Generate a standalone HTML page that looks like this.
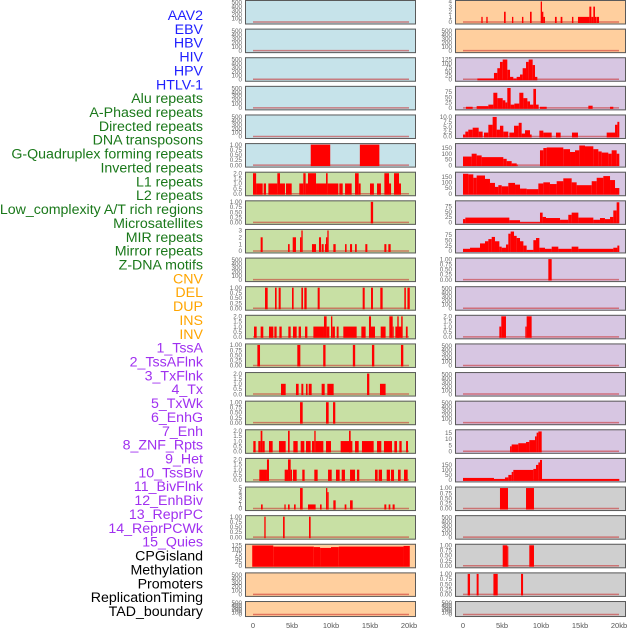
<!DOCTYPE html>
<html><head><meta charset="utf-8">
<style>
html,body{margin:0;padding:0;background:#fff;}
svg{display:block;font-family:"Liberation Sans",sans-serif;}
</style></head>
<body>
<svg id="chart" width="630" height="630" viewBox="0 0 630 630" xmlns="http://www.w3.org/2000/svg"></svg>
<script>
const trackLabels = ["AAV2","EBV","HBV","HIV","HPV","HTLV-1","Alu repeats","A-Phased repeats","Directed repeats","DNA transposons","G-Quadruplex forming repeats","Inverted repeats","L1 repeats","L2 repeats","Low_complexity A/T rich regions","Microsatellites","MIR repeats","Mirror repeats","Z-DNA motifs","CNV","DEL","DUP","INS","INV","1_TssA","2_TssAFlnk","3_TxFlnk","4_Tx","5_TxWk","6_EnhG","7_Enh","8_ZNF_Rpts","9_Het","10_TssBiv","11_BivFlnk","12_EnhBiv","13_ReprPC","14_ReprPCWk","15_Quies","CPGisland","Methylation","Promoters","ReplicationTiming","TAD_boundary"];
const labelGroups = [6,13,5,15,5];
const groupColors = ["#1f1fff","#1a781a","#ffa500","#a030f0","#000000"];

const xTicks = [0,5,10,15,20];
const xTickLabels = ["0","5kb","10kb","15kb","20kb"];

const T1 = ["0.00","0.25","0.50","0.75","1.00"], T1v=[0,0.25,0.5,0.75,1];
const T2 = ["0.0","0.5","1.0","1.5","2.0"], T2v=[0,0.5,1,1.5,2];
const TE = ["0","100","200","300","400","500"], TEv=[0,100,200,300,400,500];

const leftBg = ["#c6e3ea","#c6e3ea","#c6e3ea","#c6e3ea","#c6e3ea","#c6e3ea","#c8e0a4","#c8e0a4","#c8e0a4","#c8e0a4","#c8e0a4","#c8e0a4","#c8e0a4","#c8e0a4","#c8e0a4","#c8e0a4","#c8e0a4","#c8e0a4","#c8e0a4","#ffcf9e","#ffcf9e","#ffcf9e"];
const leftMax = [520,520,520,520,520,1,2,1,3,520,1,2,1,2,1,2,2,5,1,125,520,520];
const leftTickVals = [TEv,TEv,TEv,TEv,TEv,T1v,T2v,T1v,[0,1,2,3],TEv,T1v,T2v,T1v,T2v,T1v,T2v,T2v,[0,1,2,3,4,5],T1v,[0,25,50,75,100,125],TEv,TEv];
const leftTickText = [TE,TE,TE,TE,TE,T1,T2,T1,["0","1","2","3"],TE,T1,T2,T1,T2,T1,T2,T2,["0","1","2","3","4","5"],T1,["0","25","50","75","100","125"],TE,TE];
const leftSegs = [
 [],[],[],[],[],
 [[7.4,9.9,1],[13.7,16.2,1]],
 [[0,0.4,2],[0.4,1.24,1],[1.37,1.67,1],[1.97,3.12,1],[3.12,3.46,2],[3.46,4.1,1],[4.23,4.96,1],[5.94,6.45,1],[6.45,6.75,2],[6.75,7.05,1],[7.05,8.08,2],[8.08,9.36,1],[9.36,9.57,2],[9.57,10.94,1],[11.07,11.5,1],[11.8,12.65,1],[13.08,13.55,2],[13.55,13.8,1],[15,15.5,1],[15.9,16.4,1],[16.84,17.44,2],[17.44,17.7,1],[18.08,18.72,2],[18.72,18.97,1]],
 [[15.1,15.4,1]],
 [[0.98,1.24,2],[4.49,4.7,1],[5.09,5.51,2],[6.03,6.2,2],[6.2,6.37,3],[7.56,8.08,1],[8.46,8.72,2],[8.8,9.06,1],[9.23,9.53,1],[9.36,9.53,2],[9.53,9.7,3],[10.3,10.6,1],[11.8,12.0,1],[12.44,12.7,1],[13.08,13.3,1],[14.4,14.66,1],[16.84,17.1,1],[17.35,17.65,1]],
 [],
 [[1.54,1.88,1],[2.82,3.03,1],[3.29,3.55,1],[5.0,5.21,1],[6.2,6.41,1],[6.58,6.88,1],[8.29,8.55,1],[14.06,14.32,1],[15.13,15.38,1],[16.32,16.62,1],[19.4,19.6,1],[19.8,20.1,1]],
 [[0.13,0.47,1],[0.98,1.32,1],[2.05,2.61,1],[2.74,3.03,1],[3.38,3.68,1],[4.53,4.83,1],[5.13,5.6,1],[5.85,6.15,1],[6.67,6.97,1],[7.74,9.1,1],[9.1,9.44,2],[9.44,9.79,1],[10.0,10.17,2],[10.17,10.5,1],[10.73,10.98,1],[11.58,13.29,1],[13.89,14.44,1],[14.87,15.13,2],[15.13,15.64,1],[16.37,17.0,1],[17.48,17.91,2],[17.91,18.03,1],[18.25,19.06,1],[18.5,18.68,2],[19.0,19.19,2],[19.6,19.83,1]],
 [[0.56,0.9,1],[5.68,6.07,1],[9.0,9.3,1],[12.8,13.1,1],[15.25,15.55,1],[18.97,19.27,1]],
 [[3.59,4.19,1],[5.51,5.85,1],[6.2,6.45,1],[6.79,7.0,1],[7.14,7.52,1],[8.8,9.19,1],[9.53,10.34,1],[14.62,14.91,2],[16.28,17.0,1]],
 [[6.03,6.37,1],[9.36,9.7,1],[10.26,10.55,1]],
 [[0.04,0.34,1],[0.68,0.98,1],[0.98,1.2,2],[1.2,1.5,1],[2.05,2.52,1],[3.33,4.19,1],[4.49,4.7,2],[5.17,5.73,1],[6.11,6.58,1],[6.79,7.39,1],[7.56,7.86,1],[7.86,8.03,2],[8.03,9.02,1],[9.36,10.0,1],[11.24,12.74,1],[12.31,12.52,2],[13.08,13.55,1],[13.97,15.47,1],[15.9,16.45,1],[16.79,17.82,1],[18.12,18.46,1],[18.76,19.06,1],[19.62,19.87,1]],
 [[0.81,1.79,1],[1.79,2.05,2],[4.06,4.49,1],[4.49,4.83,2],[4.83,5.0,1],[5.13,5.6,1],[6.32,6.62,1],[7.86,8.29,1],[9.62,10.09,1],[10.64,11.11,1],[11.37,11.79,1],[12.44,13.08,1],[13.33,13.63,1],[15.64,15.98,1],[16.11,16.54,1],[17.14,17.56,1],[17.69,18.08,1],[18.59,18.93,1],[19.36,19.83,1]],
 [[1.03,1.24,1],[4.02,4.19,1],[4.49,4.7,1],[5.26,5.47,1],[6.03,6.37,5],[7.05,8.03,1],[8.59,8.8,1],[9.36,9.53,5],[9.53,9.7,4],[10.3,10.6,2],[11.75,11.97,1],[12.44,12.78,2],[16.84,17.09,1],[17.39,17.61,1],[17.9,18.16,1]],
 [[1.45,1.62,1],[3.85,4.06,1],[7.18,7.39,1]],
 [[-0.1,2.6,124],[2.6,7.8,117],[7.8,8.6,114],[8.6,10.0,109],[10.0,11.0,114],[11.0,19.3,117],[19.3,20.1,121]],
 [],[]
];

const rightBg = ["#ffcf9e","#ffcf9e","#d7c6e2","#d7c6e2","#d7c6e2","#d7c6e2","#d7c6e2","#d7c6e2","#d7c6e2","#d7c6e2","#d7c6e2","#d7c6e2","#d7c6e2","#d7c6e2","#d7c6e2","#d7c6e2","#d7c6e2","#cfcfcf","#cfcfcf","#cfcfcf","#cfcfcf","#cfcfcf"];
const rightMax = [4,520,130,95,10.5,180,180,95,95,1,520,2,520,520,520,16.5,205,1,520,1,1,520];
const rightTickVals = [[0,1,2,3,4],TEv,[0,25,50,75,100,125],[0,25,50,75],[0,2.5,5,7.5,10],[0,50,100,150],[0,50,100,150],[0,25,50,75],[0,25,50,75],T1v,TEv,T2v,TEv,TEv,TEv,[0,5,10,15],[0,50,100,150],T1v,TEv,T1v,T1v,TEv];
const rightTickText = [["0","1","2","3","4"],TE,["0","25","50","75","100","125"],["0","25","50","75"],["0.0","2.5","5.0","7.5","10.0"],["0","50","100","150"],["0","50","100","150"],["0","25","50","75"],["0","25","50","75"],T1,TE,T2,TE,TE,TE,["0","5","10","15"],["0","50","100","150"],T1,TE,T1,T1,TE];
const rightSegs = [
 [[2.35,2.52,1],[2.99,3.16,1],[5.26,5.47,2],[6.28,6.45,1],[7.56,7.74,1],[8.59,8.8,2],[9.96,10.13,4],[10.13,10.3,2],[10.3,10.51,1],[11.79,12.01,1],[12.52,12.74,1],[13.97,14.15,1],[14.74,16.2,1],[16.2,16.45,3],[16.45,16.71,1],[16.71,16.92,3],[16.92,17.14,1],[17.18,17.44,1]],
 [],
 [[1.84,3.97,5],[3.97,4.4,40],[4.4,4.74,70],[4.74,5.09,110],[5.09,5.68,125],[5.68,6.03,60],[6.03,6.45,15],[6.45,6.88,5],[6.88,7.31,15],[7.31,7.65,30],[7.65,8.08,70],[8.08,8.42,110],[8.42,8.93,125],[8.93,9.23,90],[9.23,9.53,15]],
 [[0.38,1.24,5],[1.75,3.25,8],[3.25,3.89,15],[3.89,4.4,70],[4.4,5.09,45],[5.09,5.43,35],[5.43,5.68,25],[5.68,6.11,92],[6.11,6.58,15],[6.58,7.22,20],[7.22,7.74,70],[7.74,8.25,45],[8.25,8.59,30],[8.59,9.02,15],[9.02,9.36,88],[9.36,9.7,15],[9.87,10.73,5],[16.07,16.62,10],[18.85,19.27,5]],
 [[0,0.3,1],[0.3,0.68,2.5],[0.68,1.24,3.5],[1.24,2.01,4.5],[2.01,2.52,2.5],[2.69,3.25,2],[3.25,3.8,6],[3.8,4.32,10],[4.32,4.74,3.5],[4.74,5.17,5.5],[5.17,5.81,2.5],[5.94,6.54,2],[6.54,7.14,5.5],[7.14,7.52,7],[7.52,7.95,1.5],[7.95,8.59,3.2],[8.59,8.8,1],[9.79,10.3,3],[10.3,11.37,2],[11.92,12.52,2],[13.97,14.74,2],[18.42,19.49,2],[19.49,19.79,6],[19.79,20.04,7.5]],
 [[0,1.11,75],[1.11,1.75,100],[1.75,2.39,85],[2.39,5.17,70],[5.17,5.6,55],[5.6,6.24,35],[6.24,6.88,15],[6.88,6.97,5],[9.87,10.3,130],[10.3,10.73,150],[10.73,12.86,155],[12.86,13.72,140],[13.72,14.36,115],[14.36,14.91,130],[14.91,15.64,172],[15.64,16.71,165],[16.71,17.35,140],[17.35,17.78,120],[17.78,18.63,110],[18.63,19.06,100],[19.06,19.7,130],[19.7,20.04,100]],
 [[0,0.68,175],[0.68,1.32,170],[1.32,1.75,140],[1.75,2.82,160],[2.82,3.46,130],[3.46,4.1,95],[4.1,4.53,60],[4.53,4.96,75],[4.96,5.81,65],[5.81,6.67,95],[6.67,7.31,80],[7.31,8.16,45],[8.16,9.66,40],[9.66,10.3,90],[10.3,11.15,100],[11.15,12.01,85],[12.01,12.86,110],[12.86,13.93,135],[13.93,14.57,100],[14.57,16.5,75],[16.5,17.14,110],[17.14,17.99,140],[17.99,18.85,155],[18.85,19.49,120],[19.49,20.04,50]],
 [[0,0.3,15],[0.3,5.94,22],[5.94,7.31,10],[7.31,9.87,1],[9.87,10.21,45],[10.21,10.64,25],[10.64,12.44,20],[12.44,13.5,12],[13.5,13.93,35],[13.93,14.79,45],[14.79,16.71,22],[16.71,17.56,12],[17.56,18.2,20],[18.2,18.85,15],[18.85,19.27,25],[19.27,19.7,55],[19.7,20.04,93]],
 [[0,0.9,10],[0.9,2.18,15],[2.18,2.82,35],[2.82,3.25,45],[3.25,3.68,55],[3.68,4.1,65],[4.1,4.66,45],[4.66,4.96,20],[4.96,5.51,15],[5.51,5.81,30],[5.81,6.11,80],[6.11,6.54,90],[6.54,6.88,70],[6.88,7.31,60],[7.31,7.74,45],[7.74,8.16,25],[8.16,9.02,5],[9.02,9.36,50],[9.36,9.79,60],[9.79,10.51,15],[10.51,11.37,10],[11.37,12.22,20],[12.22,13.93,10],[13.93,14.79,20],[14.79,19.27,10],[19.27,19.79,15],[19.79,20.04,25]],
 [[10.94,11.37,1]],
 [],
 [[4.66,4.91,1],[4.91,5.51,2],[7.99,8.16,1],[8.16,8.8,2]],
 [],[],[],
 [[6.03,6.24,4],[6.24,7.09,5.5],[7.09,8.08,6.5],[8.08,8.5,7.5],[8.5,9.23,9],[9.23,9.44,12],[9.44,9.66,15],[9.66,10.09,16]],
 [[0,3.97,20],[3.97,5.38,10],[5.38,5.81,25],[5.81,6.24,50],[6.24,6.45,80],[6.45,9.02,100],[9.02,9.36,110],[9.36,9.66,150],[9.66,9.87,175],[9.87,10.13,200],[10.13,20.04,10]],
 [[4.74,5.77,1],[8.08,9.1,1]],
 [],
 [[5.09,5.68,1],[5.68,5.8,0.95],[8.5,9.1,1]],
 [[0.6,0.9,1],[1.75,2.0,1],[3.9,4.45,1],[7.44,7.7,1]],
 []
];

const NS="http://www.w3.org/2000/svg";
const svg=document.getElementById('chart');
function mk(tag,attrs,parent){const e=document.createElementNS(NS,tag);for(const k in attrs)e.setAttribute(k,attrs[k]);(parent||svg).appendChild(e);return e;}

// labels
let li=0;
const labelsG=mk('g',{});


labelGroups.forEach((n,g)=>{for(let k=0;k<n;k++){
  const t=mk('text',{x:203,y:15+li*13.86+5,'text-anchor':'end','font-size':'14.2',fill:groupColors[g]},labelsG);
  t.textContent=trackLabels[li];
  
  
  li++;}});

const ROWS=22, PITCH=28.62;
function rowTop(i){return i*PITCH;}
function rowH(i){return i===ROWS-1?16:24.5;}

function drawColumn(side,frameX,zeroX,bg,ymaxArr,tickV,tickT,segs){
  const pxPerKb=7.8, W=171;
  const xScale=kb=>zeroX+kb*pxPerKb;
  const colG=mk('g',{});
  
  
  for(let i=0;i<ROWS;i++){
    const top=rowTop(i), h=rowH(i);
    const yBot=top+h-2.5, yTop=top+1.5;
    const yScale=v=>yBot-(v/ymaxArr[i])*(yBot-yTop);
    const g=mk('g',{},colG);
    
    
    const bgR=mk('rect',{x:frameX,y:top,width:W,height:h,fill:bg[i]},g);
    
    
    // ticks
    tickV[i].forEach((v,k)=>{
      const t=mk('text',{x:frameX-3,y:yScale(v)+2.2,'text-anchor':'end','font-size':'6.3',fill:'#666'},g);
      t.textContent=tickT[i][k];
      
      
    });
    // baseline
    const bl=mk('line',{x1:xScale(0),x2:xScale(20),y1:yBot,y2:yBot,stroke:'rgba(200,40,40,0.55)','stroke-width':1.5},g);
    
    
    segs[i].forEach(s=>{
      const x1=Math.max(xScale(s[0]),frameX+1), x2=Math.min(xScale(s[1]),frameX+W-1);
      const y=yScale(s[2]);
      const r=mk('rect',{x:x1,y:y,width:Math.max(x2-x1,1),height:yBot-y+1,fill:'#ff0000'},g);
      
      
    });
    const fr=mk('rect',{x:frameX+0.5,y:top+0.5,width:W-1,height:h-1,fill:'none',stroke:'#5a5a5a','stroke-width':1},g);
    
    
  }
  xTicks.forEach((v,k)=>{
    const t=mk('text',{x:xScale(v),y:628,'text-anchor':'middle','font-size':'7.5',fill:'#555'},colG);
    t.textContent=xTickLabels[k];
    
    
  });
}
drawColumn('left',245,253,leftBg,leftMax,leftTickVals,leftTickText,leftSegs);
drawColumn('right',455,463,rightBg,rightMax,rightTickVals,rightTickText,rightSegs);
</script>
</body></html>
